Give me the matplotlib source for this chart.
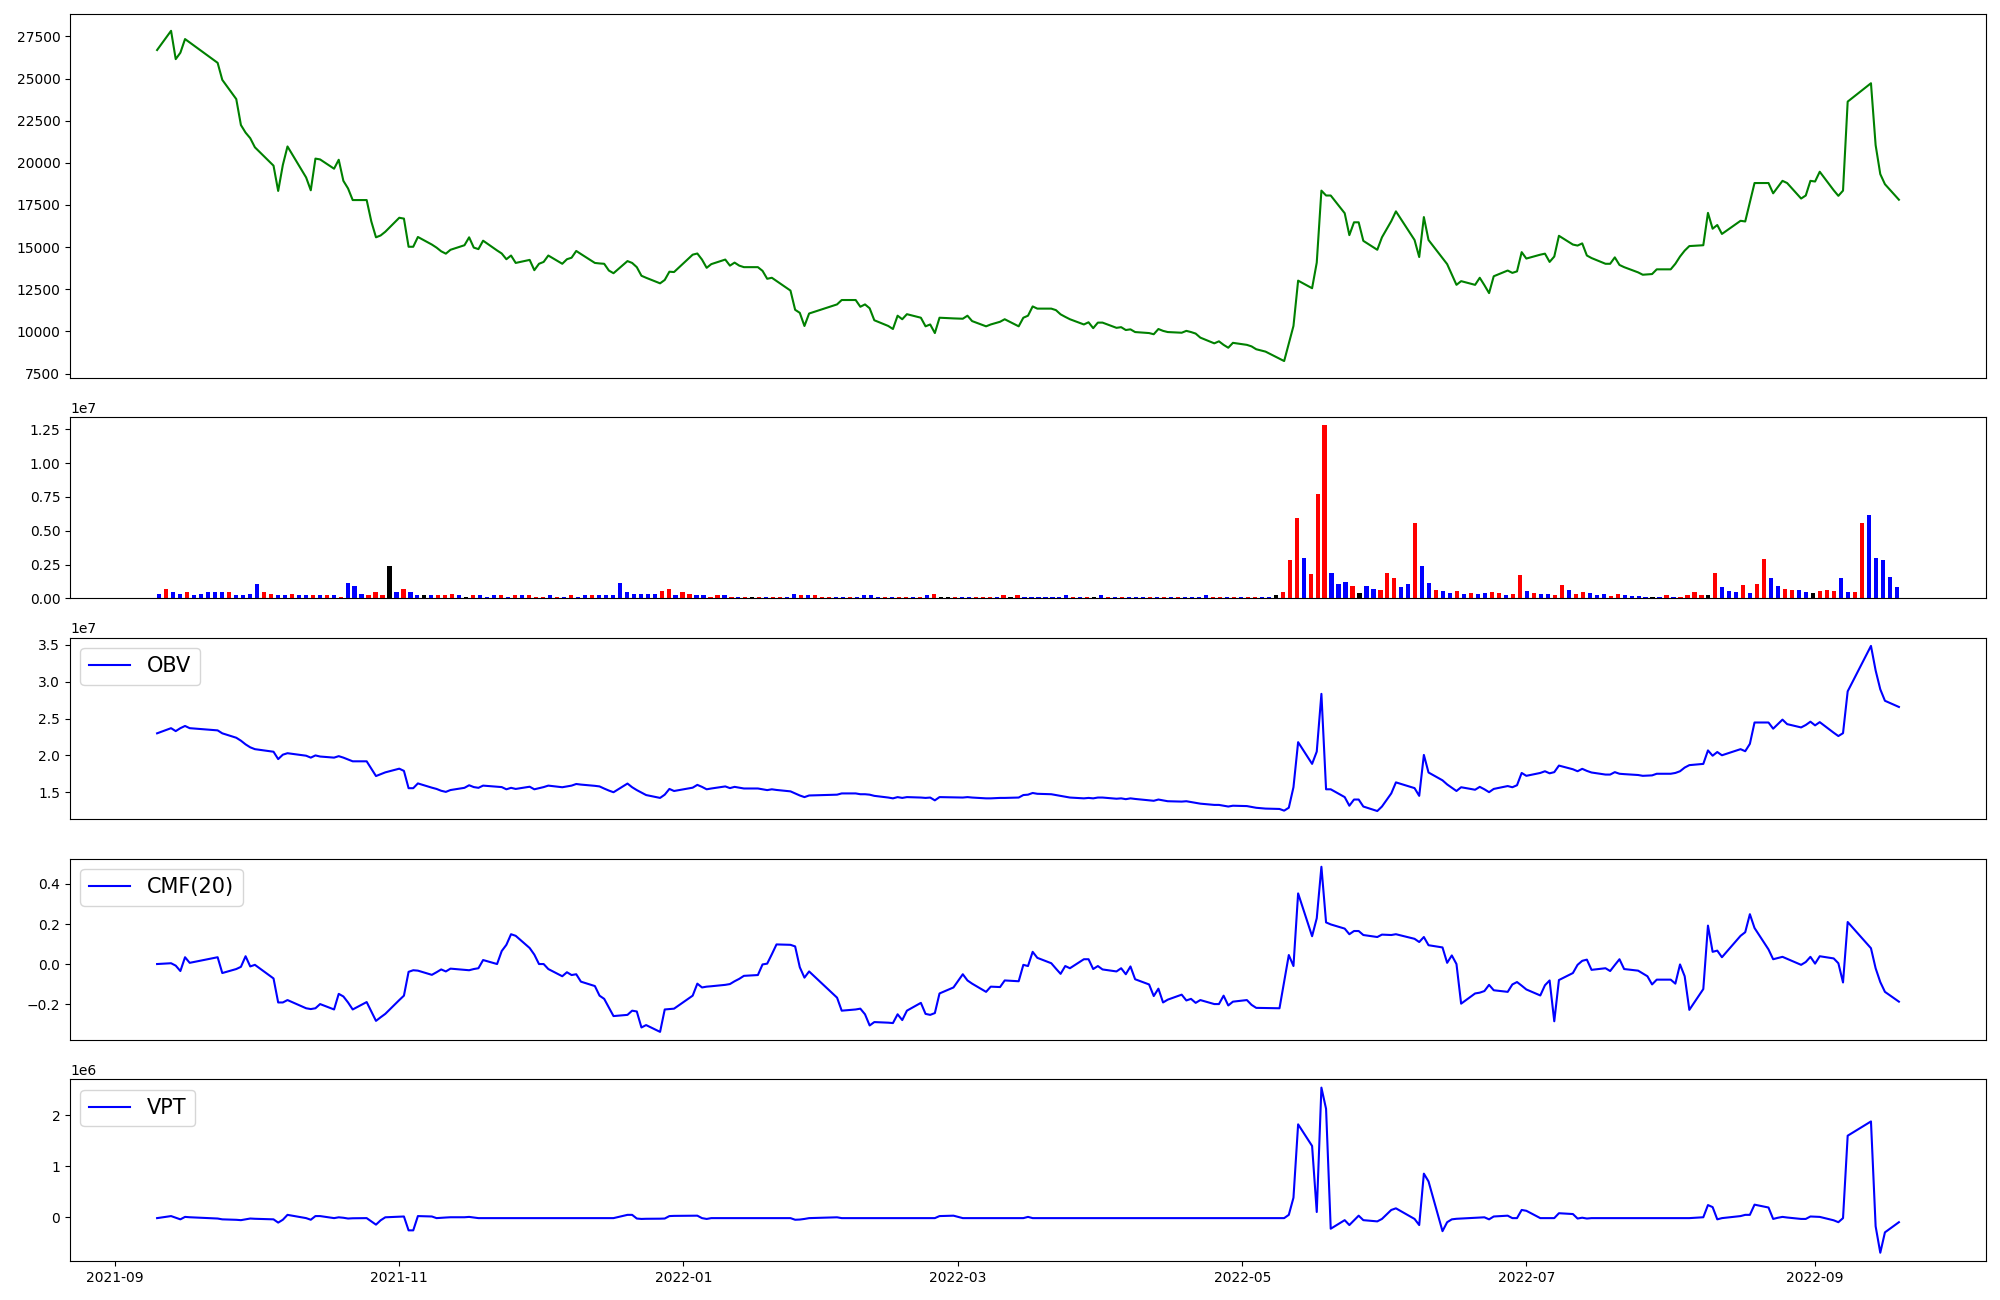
import matplotlib
matplotlib.use("Agg")
import matplotlib.pyplot as plt
import matplotlib.dates as mdates
import numpy as np
import pandas as pd

# trading calendar (KRX closed days inside the range)
closed_days = ["2021-09-20", "2021-09-21", "2021-09-22", "2021-10-04", "2021-10-11",
               "2021-12-31", "2022-01-31", "2022-02-01", "2022-02-02", "2022-03-01",
               "2022-03-09", "2022-05-05", "2022-06-01", "2022-06-06", "2022-08-15",
               "2022-09-09", "2022-09-12"]
dates = pd.bdate_range("2021-09-10", "2022-09-19").drop(pd.to_datetime(closed_days))

close = [
    26690, 27830, 26150, 26530, 27340, 27140, 25930, 24920, 23780, 22240,
    21790, 21460, 20920, 19830, 18330, 19870, 20970, 19130, 18370, 20250,
    20200, 19650, 20180, 18930, 18480, 17790, 17790, 16520, 15580, 15690,
    15910, 16740, 16690, 15020, 15020, 15600, 15150, 14970, 14750, 14610,
    14840, 15110, 15580, 14970, 14880, 15380, 14800, 14620, 14280, 14500,
    14060, 14240, 13630, 14010, 14120, 14500, 14010, 14280, 14370, 14770,
    14590, 14060, 14030, 14010, 13610, 13450, 14170, 14060, 13810, 13300,
    13180, 12850, 13050, 13540, 13520, 14550, 14620, 14260, 13770, 13990,
    14260, 13900, 14080, 13900, 13810, 13810, 13590, 13120, 13180, 12990,
    12420, 11280, 11100, 10320, 11060, 11600, 11860, 11860, 11460, 11600,
    11370, 10660, 10320, 10140, 10930, 10720, 11020, 10810, 10300, 10410,
    9900, 10810, 10770, 10750, 10930, 10610, 10300, 10410, 10570, 10720,
    10300, 10810, 10930, 11480, 11350, 11350, 11260, 11010, 10860, 10720,
    10410, 10540, 10190, 10520, 10520, 10210, 10250, 10080, 10120, 9960,
    9900, 9830, 10140, 10030, 9960, 9920, 10030, 9960, 9870, 9630,
    9290, 9410, 9200, 9030, 9320, 9200, 9110, 8940, 8800, 8380,
    8240, 9290, 10320, 13010, 12560, 14080, 18350, 18060, 18060, 17010,
    15710, 16470, 16470, 15370, 14840, 15580, 16540, 17120, 15420, 14410,
    16780, 15420, 14350, 13990, 13380, 12760, 12980, 12760, 13180, 12740,
    12270, 13270, 13610, 13470, 13560, 14700, 14320, 14550, 14610, 14120,
    14440, 15670, 15150, 15090, 15220, 14500, 14350, 14010, 14010, 14390,
    13940, 13810, 13500, 13360, 13380, 13400, 13680, 13680, 14010, 14440,
    14790, 15060, 15110, 17030, 16090, 16310, 15780, 16560, 16520, 17660,
    18800, 18800, 18190, 18560, 18930, 18800, 17880, 18060, 18930, 18890,
    19470, 18370, 18040, 18350, 23630, 24720, 21050, 19330, 18730, 17810,
]

# volume in millions of shares
volume_m = [
    0.36, 0.72, 0.50, 0.36, 0.45, 0.28, 0.36, 0.50, 0.45, 0.50,
    0.50, 0.28, 0.28, 0.36, 1.05, 0.45, 0.36, 0.28, 0.28, 0.36,
    0.22, 0.22, 0.28, 0.22, 0.28, 0.22, 0.14, 1.17, 0.90, 0.36,
    0.28, 0.45, 0.22, 2.42, 0.45, 0.67, 0.50, 0.22, 0.22, 0.22,
    0.28, 0.28, 0.36, 0.22, 0.14, 0.28, 0.22, 0.14, 0.22, 0.28,
    0.14, 0.22, 0.28, 0.22, 0.14, 0.14, 0.22, 0.14, 0.14, 0.22,
    0.14, 0.22, 0.22, 0.22, 0.28, 0.28, 1.17, 0.50, 0.36, 0.36,
    0.36, 0.36, 0.58, 0.67, 0.28, 0.50, 0.36, 0.28, 0.28, 0.14,
    0.28, 0.22, 0.14, 0.14, 0.14, 0.14, 0.14, 0.14, 0.14, 0.14,
    0.14, 0.36, 0.22, 0.22, 0.22, 0.14, 0.14, 0.07, 0.14, 0.07,
    0.07, 0.22, 0.22, 0.14, 0.14, 0.14, 0.14, 0.10, 0.14, 0.10,
    0.22, 0.36, 0.14, 0.10, 0.10, 0.14, 0.10, 0.10, 0.10, 0.10,
    0.10, 0.28, 0.14, 0.22, 0.14, 0.14, 0.10, 0.14, 0.10, 0.10,
    0.22, 0.14, 0.14, 0.14, 0.10, 0.22, 0.10, 0.14, 0.14, 0.14,
    0.14, 0.10, 0.14, 0.10, 0.14, 0.14, 0.14, 0.10, 0.14, 0.14,
    0.22, 0.10, 0.10, 0.14, 0.14, 0.10, 0.14, 0.14, 0.14, 0.14,
    0.22, 0.45, 2.83, 5.92, 2.97, 1.77, 7.70, 12.78, 1.86, 1.05,
    1.19, 0.91, 0.38, 0.91, 0.69, 0.61, 1.86, 1.49, 0.83, 1.05,
    5.54, 2.39, 1.13, 0.61, 0.52, 0.38, 0.52, 0.30, 0.38, 0.30,
    0.38, 0.47, 0.38, 0.25, 0.30, 1.72, 0.52, 0.38, 0.30, 0.30,
    0.25, 0.97, 0.61, 0.30, 0.47, 0.38, 0.25, 0.30, 0.16, 0.30,
    0.25, 0.16, 0.16, 0.14, 0.14, 0.14, 0.22, 0.07, 0.14, 0.22,
    0.50, 0.28, 0.22, 1.86, 0.83, 0.52, 0.47, 0.97, 0.38, 1.05,
    2.89, 1.49, 0.91, 0.69, 0.61, 0.61, 0.47, 0.38, 0.52, 0.61,
    0.52, 1.49, 0.47, 0.47, 5.54, 6.19, 3.02, 2.83, 1.55, 0.83,
]

# candle direction per day: r = up, b = down, k = unchanged
candle = ("brbbrbbbbb" "rbbbbrrbbr" "bbrbrbrbbb" "rrrkbrbbkb" "rrrbkrbbbr"
          "brbrrrbrbr" "bbrbbbbbbb" "bbrrbrrbbr" "rbrbrkrbrr" "bbrbrrrbbr"
          "bbbbrbrrbr" "brkkrbbrrr" "brkrbbbbbb" "brbrkbrbrb" "bbrbrbrbbb"
          "brrbrbrrbb" "krrrbrrrbb" "brkbbrrrbb" "rbbrbbrbrb" "brrbrrbrbb"
          "rrbrrbbbrr" "bbbbkbrbrr" "rrkrbbbrbr" "rbbrrbbkrr" "rbbrrbbbbb")

# OBV in millions
obv_m = [
    23.0, 23.7, 23.3, 23.7, 24.0, 23.7, 23.4, 23.0, 22.4, 22.0,
    21.5, 21.1, 20.85, 20.5, 19.5, 20.1, 20.3, 19.96, 19.7, 20.0,
    19.85, 19.7, 19.9, 19.7, 19.45, 19.2, 19.2, 18.2, 17.2, 17.45,
    17.7, 18.2, 17.9, 15.55, 15.55, 16.2, 15.62, 15.45, 15.2, 15.05,
    15.3, 15.6, 15.95, 15.7, 15.6, 15.9, 15.75, 15.7, 15.4, 15.6,
    15.45, 15.75, 15.4, 15.55, 15.7, 15.9, 15.68, 15.79, 15.9, 16.12,
    16.04, 15.87, 15.79, 15.5, 15.23, 15.0, 16.18, 15.68, 15.29, 14.95,
    14.62, 14.23, 14.67, 15.45, 15.17, 15.62, 16.0, 15.73, 15.4, 15.51,
    15.79, 15.56, 15.73, 15.62, 15.51, 15.51, 15.4, 15.29, 15.4, 15.31,
    15.12, 14.84, 14.56, 14.34, 14.56, 14.67, 14.84, 14.84, 14.73, 14.73,
    14.67, 14.51, 14.28, 14.17, 14.34, 14.23, 14.34, 14.28, 14.23, 14.28,
    13.9, 14.34, 14.31, 14.28, 14.34, 14.28, 14.17, 14.17, 14.23, 14.23,
    14.28, 14.62, 14.67, 14.9, 14.79, 14.73, 14.62, 14.51, 14.4, 14.28,
    14.17, 14.23, 14.17, 14.28, 14.28, 14.12, 14.17, 14.06, 14.17, 14.09,
    13.9, 13.84, 14.01, 13.9, 13.78, 13.73, 13.78, 13.67, 13.56, 13.45,
    13.28, 13.28, 13.17, 13.06, 13.17, 13.12, 13.0, 12.89, 12.78, 12.73,
    12.5, 12.9, 15.68, 21.8, 18.85, 20.52, 28.36, 15.4, 15.4, 14.34,
    13.17, 14.01, 14.01, 13.06, 12.45, 13.06, 14.84, 16.34, 15.56, 14.51,
    20.07, 17.68, 16.62, 16.06, 15.62, 15.17, 15.68, 15.34, 15.73, 15.4,
    15.01, 15.45, 15.84, 15.68, 15.95, 17.62, 17.23, 17.62, 17.85, 17.57,
    17.73, 18.62, 18.12, 17.85, 18.18, 17.9, 17.68, 17.4, 17.4, 17.73,
    17.51, 17.46, 17.34, 17.23, 17.26, 17.29, 17.51, 17.51, 17.62, 17.85,
    18.35, 18.68, 18.85, 20.68, 19.96, 20.46, 20.02, 20.85, 20.57, 21.57,
    24.47, 24.47, 23.63, 24.25, 24.86, 24.25, 23.8, 24.13, 24.58, 24.08,
    24.52, 23.08, 22.63, 23.02, 28.7, 34.87, 31.54, 28.98, 27.42, 26.58,
]

cmf = [
    0.0, 0.004, -0.008, -0.035, 0.034, 0.006, 0.034, -0.045, -0.025, -0.014,
    0.039, -0.012, -0.004, -0.072, -0.192, -0.192, -0.18, -0.221, -0.225, -0.221,
    -0.2, -0.227, -0.149, -0.162, -0.192, -0.227, -0.19, -0.237, -0.284, -0.266,
    -0.249, -0.18, -0.158, -0.039, -0.031, -0.033, -0.054, -0.041, -0.027, -0.037,
    -0.023, -0.029, -0.031, -0.025, -0.021, 0.02, 0.0, 0.065, 0.096, 0.149,
    0.141, 0.08, 0.047, 0.0, 0.0, -0.025, -0.061, -0.041, -0.055, -0.051,
    -0.088, -0.11, -0.158, -0.174, -0.217, -0.26, -0.254, -0.233, -0.237, -0.317,
    -0.305, -0.339, -0.227, -0.225, -0.223, -0.158, -0.098, -0.117, -0.113, -0.111,
    -0.104, -0.1, -0.086, -0.074, -0.059, -0.055, -0.002, 0.002, 0.049, 0.098,
    0.096, 0.088, -0.016, -0.068, -0.037, -0.168, -0.233, -0.227, -0.223, -0.251,
    -0.307, -0.29, -0.293, -0.295, -0.251, -0.28, -0.233, -0.194, -0.249, -0.254,
    -0.245, -0.147, -0.117, -0.051, -0.082, -0.098, -0.139, -0.113, -0.115, -0.082,
    -0.086, -0.004, -0.01, 0.061, 0.031, 0.004, -0.023, -0.049, -0.01, -0.021,
    0.024, 0.024, -0.025, -0.01, -0.027, -0.037, -0.021, -0.051, -0.012, -0.076,
    -0.102, -0.16, -0.123, -0.192, -0.178, -0.153, -0.182, -0.174, -0.194, -0.18,
    -0.2, -0.2, -0.158, -0.207, -0.188, -0.18, -0.204, -0.219, -0.22, -0.221,
    -0.088, 0.045, -0.01, 0.353, 0.139, 0.229, 0.486, 0.208, 0.198, 0.177,
    0.149, 0.165, 0.165, 0.145, 0.135, 0.147, 0.145, 0.149, 0.126, 0.11,
    0.135, 0.094, 0.083, 0.006, 0.043, 0.0, -0.198, -0.147, -0.143, -0.135,
    -0.104, -0.131, -0.139, -0.102, -0.09, -0.108, -0.127, -0.157, -0.106, -0.082,
    -0.286, -0.08, -0.045, -0.004, 0.016, 0.022, -0.029, -0.021, -0.035, -0.005,
    0.024, -0.025, -0.033, -0.047, -0.061, -0.102, -0.078, -0.078, -0.098, -0.002,
    -0.061, -0.229, -0.125, 0.192, 0.061, 0.067, 0.034, 0.141, 0.159, 0.249,
    0.18, 0.073, 0.024, 0.03, 0.036, 0.026, -0.004, 0.01, 0.036, 0.002,
    0.039, 0.028, 0.004, -0.092, 0.21, 0.079, -0.021, -0.09, -0.139, -0.188,
]

# VPT in millions
vpt_m = [
    -0.017, 0.023, -0.01, -0.041, 0.007, 0.0, -0.025, -0.041, -0.05, -0.057,
    -0.04, -0.025, -0.03, -0.041, -0.105, -0.049, 0.047, -0.017, -0.049, 0.023,
    0.023, -0.017, -0.001, -0.01, -0.025, -0.02, -0.017, -0.08, -0.145, -0.06,
    -0.001, 0.01, 0.015, -0.257, -0.257, 0.023, 0.015, -0.017, -0.01, -0.005,
    0.0, 0.0, 0.007, -0.005, -0.017, -0.017, -0.017, -0.017, -0.017, -0.017,
    -0.017, -0.017, -0.017, -0.017, -0.017, -0.017, -0.017, -0.017, -0.017, -0.017,
    -0.017, -0.017, -0.017, -0.017, -0.017, -0.017, 0.047, 0.047, -0.025, -0.033,
    -0.03, -0.028, -0.025, 0.023, 0.027, 0.031, 0.031, -0.017, -0.033, -0.017,
    -0.017, -0.017, -0.017, -0.017, -0.017, -0.017, -0.017, -0.017, -0.017, -0.017,
    -0.017, -0.049, -0.045, -0.033, -0.017, -0.001, -0.017, -0.017, -0.017, -0.017,
    -0.017, -0.017, -0.017, -0.017, -0.017, -0.017, -0.017, -0.017, -0.017, -0.017,
    -0.017, 0.023, 0.031, -0.017, -0.017, -0.017, -0.017, -0.017, -0.017, -0.017,
    -0.017, -0.017, 0.007, -0.017, -0.017, -0.017, -0.017, -0.017, -0.017, -0.017,
    -0.017, -0.017, -0.017, -0.017, -0.017, -0.017, -0.017, -0.017, -0.017, -0.017,
    -0.017, -0.017, -0.017, -0.017, -0.017, -0.017, -0.017, -0.017, -0.017, -0.017,
    -0.017, -0.017, -0.017, -0.017, -0.017, -0.017, -0.017, -0.017, -0.017, -0.017,
    -0.017, 0.047, 0.383, 1.822, 1.398, 0.103, 2.542, 2.126, -0.225, -0.057,
    -0.153, -0.06, 0.031, -0.057, -0.081, -0.033, 0.143, 0.175, -0.033, -0.153,
    0.855, 0.703, -0.273, -0.097, -0.041, -0.03, -0.025, -0.009, -0.005, -0.001,
    -0.041, 0.015, 0.031, -0.017, -0.017, 0.143, 0.127, -0.017, -0.017, -0.017,
    -0.017, 0.079, 0.063, -0.025, -0.009, -0.025, -0.017, -0.017, -0.017, -0.017,
    -0.017, -0.017, -0.017, -0.017, -0.017, -0.017, -0.017, -0.017, -0.017, -0.017,
    -0.017, -0.017, 0.0, 0.239, 0.199, -0.041, -0.017, 0.023, 0.047, 0.047,
    0.247, 0.191, -0.033, -0.01, 0.007, -0.005, -0.033, -0.033, 0.015, 0.01,
    0.007, -0.06, -0.097, -0.017, 1.599, 1.879, -0.177, -0.696, -0.296, -0.097,
]

bar_colors = {"r": "red", "b": "blue", "k": "black"}

fig = plt.figure(figsize=(20, 13), dpi=100)
gs = fig.add_gridspec(5, 1, height_ratios=[2, 1, 1, 1, 1], hspace=0.18,
                      left=0.035, right=0.993, top=0.989, bottom=0.030)
ax_p = fig.add_subplot(gs[0])
ax_v = fig.add_subplot(gs[1])
ax_obv = fig.add_subplot(gs[2], sharex=ax_p)
ax_cmf = fig.add_subplot(gs[3], sharex=ax_p)
ax_vpt = fig.add_subplot(gs[4], sharex=ax_p)

ax_p.plot(dates, close, color="green")

ax_v.bar(np.arange(len(volume_m)), np.array(volume_m) * 1e6, width=0.6,
         color=[bar_colors[c] for c in candle])
ax_v.set_xticks([])

ax_obv.plot(dates, np.array(obv_m) * 1e6, color="blue", label="OBV")
ax_cmf.plot(dates, cmf, color="blue", label="CMF(20)")
ax_vpt.plot(dates, np.array(vpt_m) * 1e6, color="blue", label="VPT")
for ax in (ax_obv, ax_cmf, ax_vpt):
    ax.legend(loc="upper left", fontsize=15)

for ax in (ax_p, ax_obv, ax_cmf):
    ax.tick_params(axis="x", bottom=False, labelbottom=False)

ax_vpt.xaxis.set_major_locator(mdates.MonthLocator(bymonth=[1, 3, 5, 7, 9, 11]))
ax_vpt.xaxis.set_major_formatter(mdates.DateFormatter("%Y-%m"))

fig.savefig("out.png", dpi=100)
